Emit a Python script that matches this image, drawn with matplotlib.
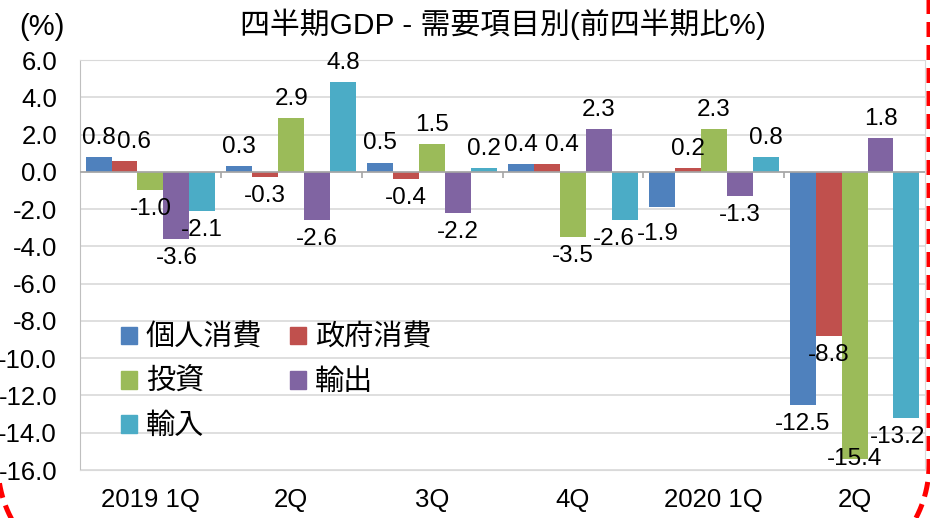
import numpy as np
import matplotlib
matplotlib.use("Agg")
import matplotlib.pyplot as plt
from matplotlib.lines import Line2D
from matplotlib.patches import Patch
from matplotlib.transforms import IdentityTransform

plt.rcParams['font.family'] = ['Liberation Sans', 'Noto Sans CJK JP', 'DejaVu Sans']
plt.rcParams['axes.unicode_minus'] = False

quarters = ["2019 1Q", "2Q", "3Q", "4Q", "2020 1Q", "2Q"]
series_names = ["個人消費", "政府消費", "投資", "輸出", "輸入"]
colors = ["#4F81BD", "#C0504D", "#9BBB59", "#8064A2", "#4BACC6"]

kojin = [0.8, 0.3, 0.5, 0.4, -1.9, -12.5]
seifu = [0.6, -0.3, -0.4, 0.4, 0.2, -8.8]
toshi = [-1.0, 2.9, 1.5, -3.5, 2.3, -15.4]
yushutsu = [-3.6, -2.6, -2.2, 2.3, -1.3, 1.8]
yunyu = [-2.1, 4.8, 0.2, -2.6, 0.8, -13.2]
values = [kojin, seifu, toshi, yushutsu, yunyu]

yticks = np.arange(-16, 7, 2)

# hand-moved labels in the original (series, quarter): pixel nudge
nudge = {(1, 0): (9, 0), (1, 3): (15, 0), (4, 3): (-11, 0), (0, 4): (-4, -8)}

W, H = 930, 518
fig = plt.figure(figsize=(W / 100, H / 100), dpi=100)
ax = fig.add_axes([80 / W, 1 - 470 / H, 845 / W, 410 / H])

x = np.arange(len(quarters))
w = 0.184
labels = []
for i, (vals, c) in enumerate(zip(values, colors)):
    xs = x + (i - 2) * w
    ax.bar(xs, vals, w, color=c, zorder=3, linewidth=0)
    for j, (xi, v) in enumerate(zip(xs, vals)):
        ndx, ndy = nudge.get((i, j), (0, 0))
        off = 13.7 if v >= 0 else -13.7
        t = ax.annotate(f"{v:.1f}", (xi, v), xytext=(ndx * 0.72, off + ndy * 0.72),
                        textcoords='offset points', ha='center', va='center',
                        fontsize=17.5, zorder=5)
        labels.append(t)

ax.set_xlim(-0.5, len(quarters) - 0.5)
ax.set_ylim(-16, 6)
ax.set_yticks(yticks)
ax.set_yticklabels([f"{t:.1f}" for t in yticks])
ax.set_xticks(x)
ax.set_xticklabels(quarters)
ax.tick_params(axis='y', length=0, pad=16.5, labelsize=18.5)
ax.tick_params(axis='x', length=0, pad=13, labelsize=18.5)
ax.grid(axis='y', color='#D9D9D9', linewidth=1.2, zorder=0)
for s in ax.spines.values():
    s.set_color('#D9D9D9')
ax.spines['left'].set_color('#BFBFBF')
ax.axhline(0, color='#A6A6A6', linewidth=1.2, zorder=4)
ax.vlines(np.arange(len(quarters) - 1) + 0.5, 0, -0.35, color='#A6A6A6', linewidth=1.2, zorder=4)

ax.set_title("四半期GDP - 需要項目別(前四半期比%)", fontsize=21.5, pad=19)
fig.text(42 / W, 1 - 27 / H, "(%)", fontsize=21, ha='center', va='center')

handles = [Patch(color=c) for c in colors]
order = [0, 2, 4, 1, 3]
leg = ax.legend([handles[k] for k in order], [series_names[k] for k in order], ncol=2,
                loc='upper left', bbox_to_anchor=(121 / W, 1 - 324 / H),
                bbox_transform=fig.transFigure, frameon=False, fontsize=21,
                handlelength=0.55, handleheight=0.55, handletextpad=0.3,
                columnspacing=0.95, labelspacing=0.55, borderpad=0, borderaxespad=0)
leg.set_zorder(6)

# keep data labels inside the plot area
fig.canvas.draw()
r = fig.canvas.get_renderer()
abox = ax.get_window_extent(r)
for t in labels:
    bb = t.get_window_extent(r)
    dx = dy = 0
    if bb.x1 > abox.x1:
        dx = abox.x1 - bb.x1
    if bb.y0 < abox.y0:
        dy = abox.y0 - bb.y0
    if dx or dy:
        ox, oy = t.xyann
        t.xyann = (ox + dx * 72 / fig.dpi, oy + dy * 72 / fig.dpi)

# red dashed rounded frame, mostly outside the picture (image pixels, y down)
left, right, cy, rad = -2, 929, 465, 114
a1 = np.linspace(0, np.pi / 2, 40)
a2 = np.linspace(np.pi / 2, np.pi, 40)
fx = np.concatenate([[right], right - rad + rad * np.cos(a1), left + rad + rad * np.cos(a2), [left]])
fy = np.concatenate([[-20], cy + rad * np.sin(a1), cy + rad * np.sin(a2), [-20]])
frame = Line2D(fx, H - fy, transform=IdentityTransform(), color='#FF0000',
               linewidth=3.6, dashes=(3, 1.6), clip_on=False)
fig.add_artist(frame)

fig.savefig("out.png", dpi=100)
